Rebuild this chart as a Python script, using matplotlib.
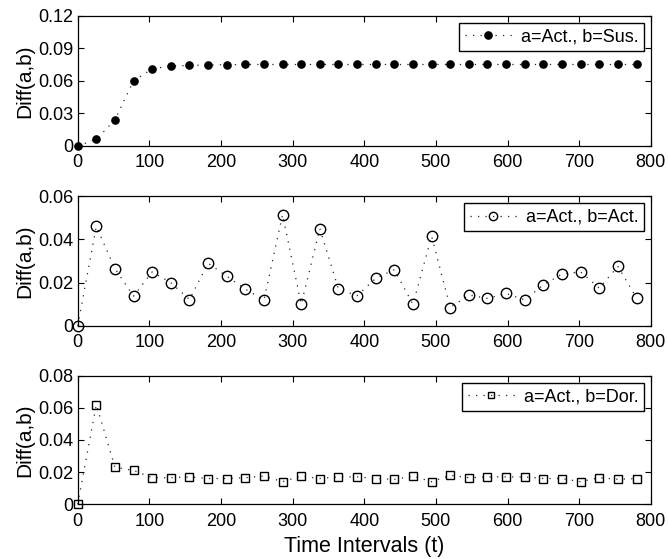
import numpy as np
import matplotlib
matplotlib.use("Agg")
import matplotlib.pyplot as plt
from matplotlib.ticker import FuncFormatter

plt.rcParams["font.family"] = ["Liberation Sans", "DejaVu Sans"]

# time intervals sampled every 26 units
t = list(range(0, 781, 26))

diff_sus = [0, 0.006, 0.024, 0.060, 0.071, 0.0735, 0.0742, 0.0745, 0.0748, 0.075,
            0.075, 0.075, 0.075, 0.075, 0.075, 0.075, 0.075, 0.075, 0.075, 0.075,
            0.075, 0.075, 0.075, 0.075, 0.075, 0.075, 0.075, 0.075, 0.075, 0.075, 0.075]

diff_act = [0, 0.046, 0.0265, 0.0138, 0.025, 0.020, 0.0122, 0.029, 0.023, 0.017,
            0.012, 0.0515, 0.010, 0.045, 0.017, 0.014, 0.022, 0.026, 0.010, 0.0415,
            0.0085, 0.0143, 0.0127, 0.015, 0.012, 0.019, 0.024, 0.025, 0.0175, 0.0275, 0.013]

diff_dor = [0, 0.062, 0.023, 0.021, 0.0165, 0.0165, 0.017, 0.016, 0.016, 0.0165,
            0.0175, 0.014, 0.0175, 0.016, 0.017, 0.017, 0.016, 0.0155, 0.0175, 0.014,
            0.018, 0.0165, 0.017, 0.017, 0.017, 0.016, 0.016, 0.014, 0.0165, 0.0155, 0.016]

# (values, marker, face colour, legend label, y ticks, marker size, legend marker scale)
panels = [
    (diff_sus, "o", "k", "a=Act., b=Sus.", [0, 0.03, 0.06, 0.09, 0.12], 5.2, 1.0),
    (diff_act, "o", "none", "a=Act., b=Act.", [0, 0.02, 0.04, 0.06], 7.5, 0.8),
    (diff_dor, "s", "none", "a=Act., b=Dor.", [0, 0.02, 0.04, 0.06, 0.08], 5.3, 0.8),
]

# axes boxes in figure fractions: [left, bottom, width, height]
boxes = [
    [0.1163, 0.739, 0.858, 0.233],
    [0.1163, 0.417, 0.858, 0.232],
    [0.1163, 0.098, 0.858, 0.230],
]

fig = plt.figure(figsize=(6.68, 5.59), dpi=100)

fmt = FuncFormatter(lambda v, pos: f"{v:g}")

for box, (vals, marker, mfc, label, yticks, ms, mscale) in zip(boxes, panels):
    ax = fig.add_axes(box)
    line, = ax.plot(t, vals, linestyle=(0, (1, 5)), color="0.15", lw=0.9,
                    marker=marker, mfc=mfc, mec="k", mew=1.0, ms=ms,
                    label=label, clip_on=False, zorder=3)
    if mfc == "k":
        line.set_markerfacecolor("k")
    ax.set_xlim(0, 800)
    ax.set_ylim(yticks[0], yticks[-1])
    ax.set_xticks(range(0, 801, 100))
    ax.set_yticks(yticks)
    ax.yaxis.set_major_formatter(fmt)
    ax.tick_params(direction="in", top=True, right=True, length=4, width=0.8,
                   labelsize=13)
    ax.tick_params(axis="x", pad=6)
    ax.tick_params(axis="y", pad=3)
    for sp in ax.spines.values():
        sp.set_linewidth(0.9)
    ax.set_ylabel("Diff(a,b)", fontsize=15, labelpad=3)
    leg = ax.legend(loc="upper right", fontsize=13, fancybox=False,
                    edgecolor="k", framealpha=1, handlelength=2.6,
                    handletextpad=0.5, borderpad=0.3, borderaxespad=0.4,
                    markerscale=mscale)
    leg.get_frame().set_linewidth(1.0)

ax.set_xlabel("Time Intervals (t)", fontsize=15.5, labelpad=5)

fig.savefig("out.png", dpi=100)
